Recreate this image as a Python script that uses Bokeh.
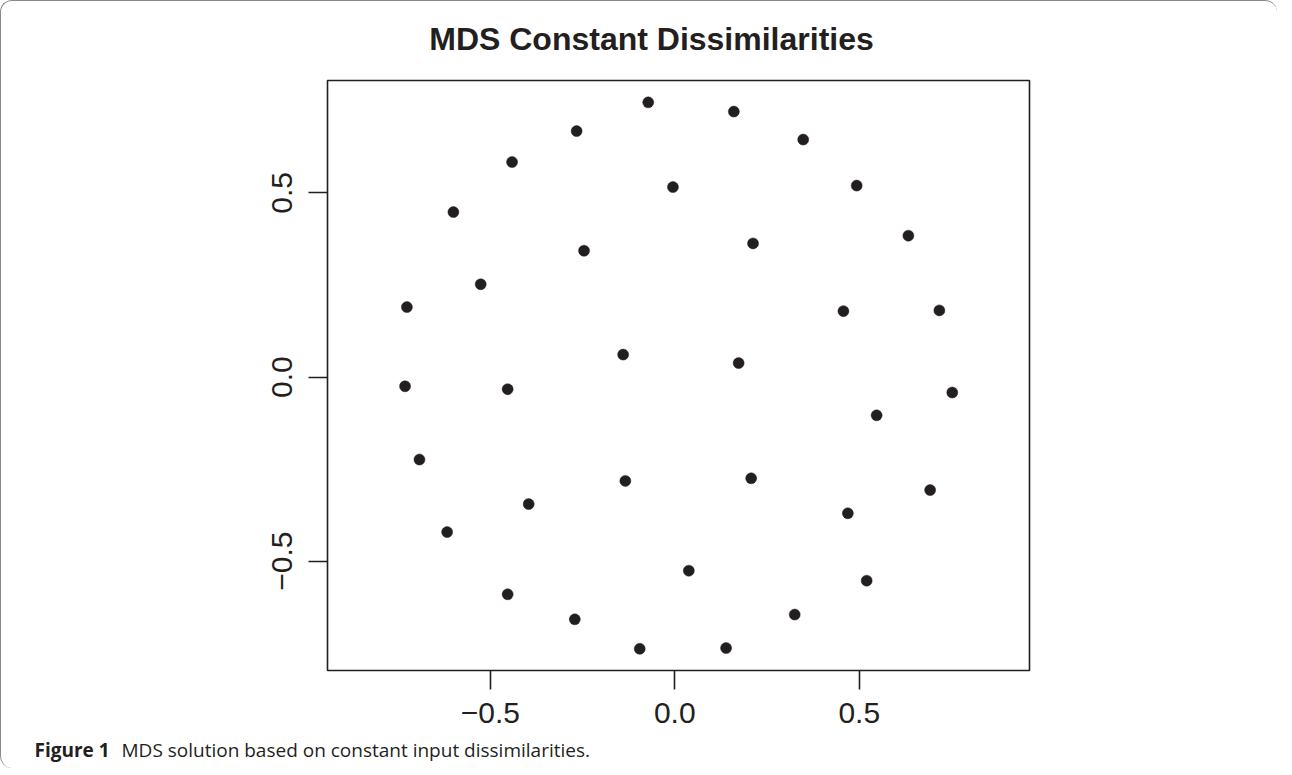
from bokeh.plotting import figure
from bokeh.layouts import column
from bokeh.models import Range1d, FixedTicker, CustomJSTickFormatter, ColumnDataSource
from bokeh.core.properties import value
from bokeh.embed import file_html
from bokeh.resources import INLINE

# MDS configuration (35 objects)
x_coord = [-0.072, -0.266, -0.441, -0.005, -0.600, -0.246, -0.526, -0.726, -0.140, -0.731,
           -0.453, 0.160, 0.348, 0.493, 0.212, 0.633, 0.457, 0.717, 0.173, 0.752,
           -0.692, -0.134, -0.396, -0.617, 0.038, -0.453, -0.271, -0.095, 0.547, 0.207,
           0.692, 0.469, 0.520, 0.325, 0.139]
y_coord = [0.746, 0.668, 0.584, 0.516, 0.448, 0.343, 0.252, 0.190, 0.061, -0.025,
           -0.033, 0.721, 0.645, 0.520, 0.363, 0.384, 0.179, 0.181, 0.038, -0.042,
           -0.224, -0.282, -0.345, -0.421, -0.526, -0.590, -0.658, -0.738, -0.104, -0.275,
           -0.307, -0.370, -0.553, -0.645, -0.736]
tick_values = [-0.5, 0.0, 0.5]
title_text = "MDS Constant Dissimilarities"
caption_bold = "Figure 1"
caption_text = "MDS solution based on constant input dissimilarities."

INK = "#231f20"
W = 1276
T_H = 62            # title strip height
P_BOT = 735         # bottom of main plot canvas
TOTAL_H = 767
CAP_OVERLAP = 10
CAP_H = TOTAL_H - P_BOT + CAP_OVERLAP
FL, FR, FT, FB = 326, 1028, 79, 669  # frame edges (page px)


def text_strip(height, top):
    f = figure(width=W, height=height, output_backend="svg", toolbar_location=None,
               x_range=Range1d(0, W), y_range=Range1d(top + height, top),
               x_axis_location=None, y_axis_location=None, min_border=0,
               frame_align=False)
    f.title.text = ""
    f.grid.visible = False
    f.outline_line_color = None
    f.background_fill_alpha = 0
    f.border_fill_alpha = 0
    return f


# ---- title strip
ft = text_strip(T_H, 0)
ft.text(x=[650], y=[37], text=[title_text], text_font=value("Liberation Sans"),
        text_font_style="bold", text_font_size="32px", text_align="center",
        text_baseline="alphabetic", text_color=INK)

# ---- main plot
p = figure(width=W, height=P_BOT - T_H, output_backend="svg", toolbar_location=None,
           x_range=Range1d(-0.9412, 0.9613), y_range=Range1d(-0.797, 0.8054),
           min_border_left=FL, min_border_right=W - FR,
           min_border_top=FT - T_H, min_border_bottom=P_BOT - FB,
           frame_align=False)
p.title.text = ""
p.grid.visible = False
p.background_fill_color = "white"
p.border_fill_alpha = 0
p.outline_line_color = INK
p.outline_line_width = 1.6

fmt = CustomJSTickFormatter(code="""
if (Math.abs(tick) < 1e-9) { return '0.0'; }
return (tick < 0 ? '\u2212' : '') + Math.abs(tick).toFixed(1);
""")

for ax in (p.xaxis[0], p.yaxis[0]):
    ax.ticker = FixedTicker(ticks=tick_values)
    ax.formatter = fmt
    ax.axis_line_color = None
    ax.major_tick_line_color = INK
    ax.major_tick_line_width = 1.6
    ax.major_tick_out = 19
    ax.major_tick_in = 0
    ax.minor_tick_line_color = None
    ax.major_label_text_font = "Liberation Sans"
    ax.major_label_text_font_size = "30px"
    ax.major_label_text_color = INK

p.xaxis[0].major_label_standoff = 13
p.yaxis[0].major_label_standoff = 16
p.yaxis[0].major_label_orientation = "vertical"

src = ColumnDataSource(data=dict(x=x_coord, y=y_coord))
p.scatter("x", "y", source=src, size=11, fill_color=INK, line_color=INK, line_width=0.5)

# ---- caption strip (overlaps the plot's bottom padding)
cap_top = P_BOT - CAP_OVERLAP
fc = text_strip(CAP_H, cap_top)
fc.margin = (-CAP_OVERLAP, 0, 0, 0)
fc.text(x=[33], y=[748], text=[caption_bold], text_font=value("Open Sans"),
        text_font_style="bold", text_font_size="19px", text_align="left",
        text_baseline="alphabetic", text_color=INK)
fc.text(x=[120], y=[748], text=[caption_text], text_font=value("Open Sans"),
        text_font_size="19px", text_align="left",
        text_baseline="alphabetic", text_color=INK)

layout = column(ft, p, fc, spacing=0)
layout.styles = {"border-top": "1.2px solid #8a8a8a", "border-left": "1.2px solid #8a8a8a",
                 "border-top-left-radius": "12px", "border-top-right-radius": "12px",
                 "border-bottom-left-radius": "12px"}

open("out.html", "w").write(file_html(layout, INLINE))
